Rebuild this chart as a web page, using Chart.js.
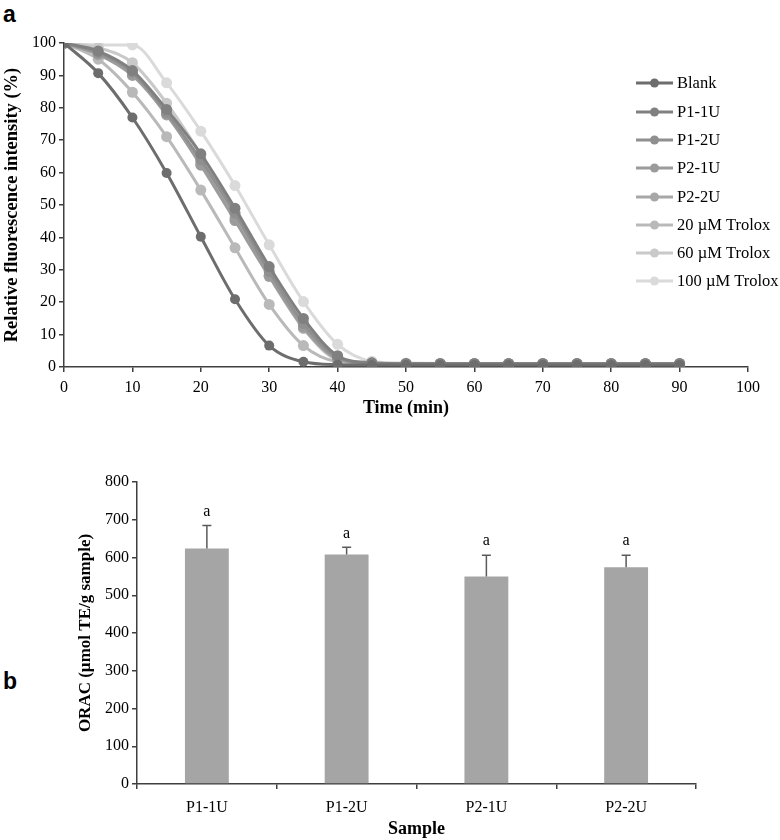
<!DOCTYPE html>
<html>
<head>
<meta charset="utf-8">
<script src="https://cdn.jsdelivr.net/npm/chart.js@4.4.1/dist/chart.umd.min.js"></script>
<style>
  body { margin: 0; background: #fff; }
  .wrap { position: relative; width: 780px; height: 840px; }
  canvas { position: absolute; left: 0; }
  .panel { position: absolute; left: 3px; font: bold 23px "Liberation Sans", Arial, sans-serif; color: #000; }
</style>
</head>
<body>
<div class="wrap">
  <div class="panel" style="top:1px">a</div>
  <div class="panel" style="top:668px">b</div>
  <canvas id="lineChart" width="780" height="420" style="top:0"></canvas>
  <canvas id="barChart" width="780" height="420" style="top:420px"></canvas>
</div>
<script>
const times = [0, 5, 10, 15, 20, 25, 30, 35, 40, 45, 50, 55, 60, 65, 70, 75, 80, 85, 90];

const blank = [100, 90.7, 77, 59.9, 40.2, 20.9, 6.6, 1.6, 0.7, 0.6, 0.6, 0.6, 0.6, 0.6, 0.6, 0.6, 0.6, 0.6, 0.6];
const p1_1U = [100, 97.5, 91.5, 79.5, 65.8, 49, 31, 15, 3.5, 1.3, 1, 1, 1, 1, 1, 1, 1, 1, 1];
const p1_2U = [100, 97, 91, 78.5, 64, 47.5, 29.5, 13.5, 3, 1.2, 1, 1, 1, 1, 1, 1, 1, 1, 1];
const p2_1U = [100, 96.5, 90, 78, 62.3, 45.2, 28, 12.5, 2.5, 1.1, 1, 1, 1, 1, 1, 1, 1, 1, 1];
const p2_2U = [100, 96.5, 90.5, 77.8, 63, 46, 28.4, 12, 2.5, 1.1, 1, 1, 1, 1, 1, 1, 1, 1, 1];
const trolox20 = [100, 95, 84.8, 71.1, 54.6, 36.8, 19.3, 6.6, 1.6, 1, 1, 1, 1, 1, 1, 1, 1, 1, 1];
const trolox60 = [100, 98.5, 93.9, 81.4, 65.5, 47.4, 28, 11.9, 2.2, 1.1, 1, 1, 1, 1, 1, 1, 1, 1, 1];
const trolox100 = [100, 99.4, 99.4, 87.7, 72.8, 56, 37.7, 20.2, 7, 1.8, 1.2, 1.1, 1.1, 1.1, 1.1, 1.1, 1.1, 1.1, 1.1];

const seriesNames = ["Blank", "P1-1U", "P1-2U", "P2-1U", "P2-2U", "20 \u00b5M Trolox", "60 \u00b5M Trolox", "100 \u00b5M Trolox"];
const seriesValues = [blank, p1_1U, p1_2U, p2_1U, p2_2U, trolox20, trolox60, trolox100];
const seriesColors = ["#6d6d6d", "#808080", "#8f8f8f", "#9b9b9b", "#a7a7a7", "#b9b9b9", "#c9c9c9", "#dadada"];

const samples = ["P1-1U", "P1-2U", "P2-1U", "P2-2U"];
const oracValues = [624, 608, 550, 574];
const oracErrors = [61, 19, 56, 32];
const oracLetters = ["a", "a", "a", "a"];

const serif = "'Liberation Serif', 'Times New Roman', serif";
const axisColor = "#3f3f3f";

Chart.defaults.font.family = serif;
Chart.defaults.color = "#000";

// legend drawn at the right side, overlapping the plot like the original
const sideLegend = {
  id: "sideLegend",
  afterDraw(chart) {
    const ctx = chart.ctx;
    const rowY = [83, 112, 140, 168, 197, 225, 253, 281];
    ctx.save();
    ctx.font = "16.5px " + serif;
    ctx.textBaseline = "middle";
    chart.data.datasets.forEach((ds, i) => {
      const y = rowY[i];
      ctx.strokeStyle = ds.borderColor;
      ctx.lineWidth = 3;
      ctx.beginPath();
      ctx.moveTo(636, y);
      ctx.lineTo(673, y);
      ctx.stroke();
      ctx.fillStyle = ds.borderColor;
      ctx.beginPath();
      ctx.arc(654.5, y, 4.5, 0, Math.PI * 2);
      ctx.fill();
      ctx.fillStyle = "#000";
      ctx.fillText(ds.label, 677, y + 1);
    });
    ctx.restore();
  },
};

new Chart(document.getElementById("lineChart"), {
  type: "line",
  data: {
    datasets: seriesNames.map((name, i) => ({
      label: name,
      data: times.map((t, j) => ({ x: t, y: seriesValues[i][j] })),
      borderColor: seriesColors[i],
      backgroundColor: seriesColors[i],
      borderWidth: 3,
      pointRadius: i === 0 ? 5 : 5.5,
      pointBorderWidth: 0,
      cubicInterpolationMode: "monotone",
    })),
  },
  options: {
    responsive: false,
    animation: false,
    layout: { padding: { top: 43, right: 32, left: 0, bottom: 0 } },
    plugins: { legend: { display: false }, tooltip: { enabled: false } },
    scales: {
      x: {
        type: "linear",
        min: 0,
        max: 100,
        ticks: { stepSize: 10, padding: 6, font: { size: 16 } },
        grid: { drawOnChartArea: false, tickLength: 5, color: axisColor, lineWidth: 1.5 },
        border: { color: axisColor, width: 1.5 },
        title: { display: true, text: "Time (min)", font: { size: 18, weight: "bold" }, padding: { top: 0, bottom: 1 } },
        afterFit: (scale) => { scale.height = 53; },
      },
      y: {
        min: 0,
        max: 100,
        ticks: { stepSize: 10, padding: 3, font: { size: 16 } },
        grid: { drawOnChartArea: false, tickLength: 5, color: axisColor, lineWidth: 1.5 },
        border: { color: axisColor, width: 1.5 },
        title: { display: true, text: "Relative fluorescence intensity (%)", font: { size: 18.5, weight: "bold" }, padding: { top: 1, bottom: 0 } },
        afterFit: (scale) => { scale.width = 64; },
      },
    },
  },
  plugins: [sideLegend],
});

// upper error bars plus the significance letters
const errorBars = {
  id: "errorBars",
  afterDatasetsDraw(chart) {
    const ctx = chart.ctx;
    const xs = chart.scales.x;
    const ys = chart.scales.y;
    ctx.save();
    ctx.strokeStyle = "#5a5a5a";
    ctx.lineWidth = 1.5;
    ctx.font = "16px " + serif;
    ctx.fillStyle = "#000";
    ctx.textAlign = "center";
    ctx.textBaseline = "middle";
    oracValues.forEach((v, i) => {
      const x = xs.getPixelForValue(i);
      const y0 = ys.getPixelForValue(v);
      const y1 = ys.getPixelForValue(v + oracErrors[i]);
      ctx.beginPath();
      ctx.moveTo(x, y0);
      ctx.lineTo(x, y1);
      ctx.moveTo(x - 4.5, y1);
      ctx.lineTo(x + 4.5, y1);
      ctx.stroke();
      ctx.fillText(oracLetters[i], x, y1 - 14);
    });
    ctx.restore();
  },
};

new Chart(document.getElementById("barChart"), {
  type: "bar",
  data: {
    labels: samples,
    datasets: [
      {
        label: "ORAC",
        data: oracValues,
        backgroundColor: "#a5a5a5",
        categoryPercentage: 1,
        barPercentage: 0.314,
      },
    ],
  },
  options: {
    responsive: false,
    animation: false,
    layout: { padding: { top: 62, right: 84, left: 0, bottom: 0 } },
    plugins: { legend: { display: false }, tooltip: { enabled: false } },
    scales: {
      x: {
        ticks: { padding: 9, font: { size: 16 } },
        grid: { drawOnChartArea: false, tickLength: 5, color: axisColor, lineWidth: 1.5 },
        border: { color: axisColor, width: 1.5 },
        title: { display: true, text: "Sample", font: { size: 18, weight: "bold" }, padding: { top: 0, bottom: 0 } },
        afterFit: (scale) => { scale.height = 56; },
      },
      y: {
        min: 0,
        max: 800,
        ticks: { stepSize: 100, padding: 3, font: { size: 16 } },
        grid: { drawOnChartArea: false, tickLength: 5, color: axisColor, lineWidth: 1.5 },
        border: { color: axisColor, width: 1.5 },
        title: { display: true, text: "ORAC (\u00b5mol TE/g sample)", font: { size: 17, weight: "bold" }, padding: { top: 75, bottom: 0 } },
        afterFit: (scale) => { scale.width = 137; },
      },
    },
  },
  plugins: [errorBars],
});
</script>
</body>
</html>
